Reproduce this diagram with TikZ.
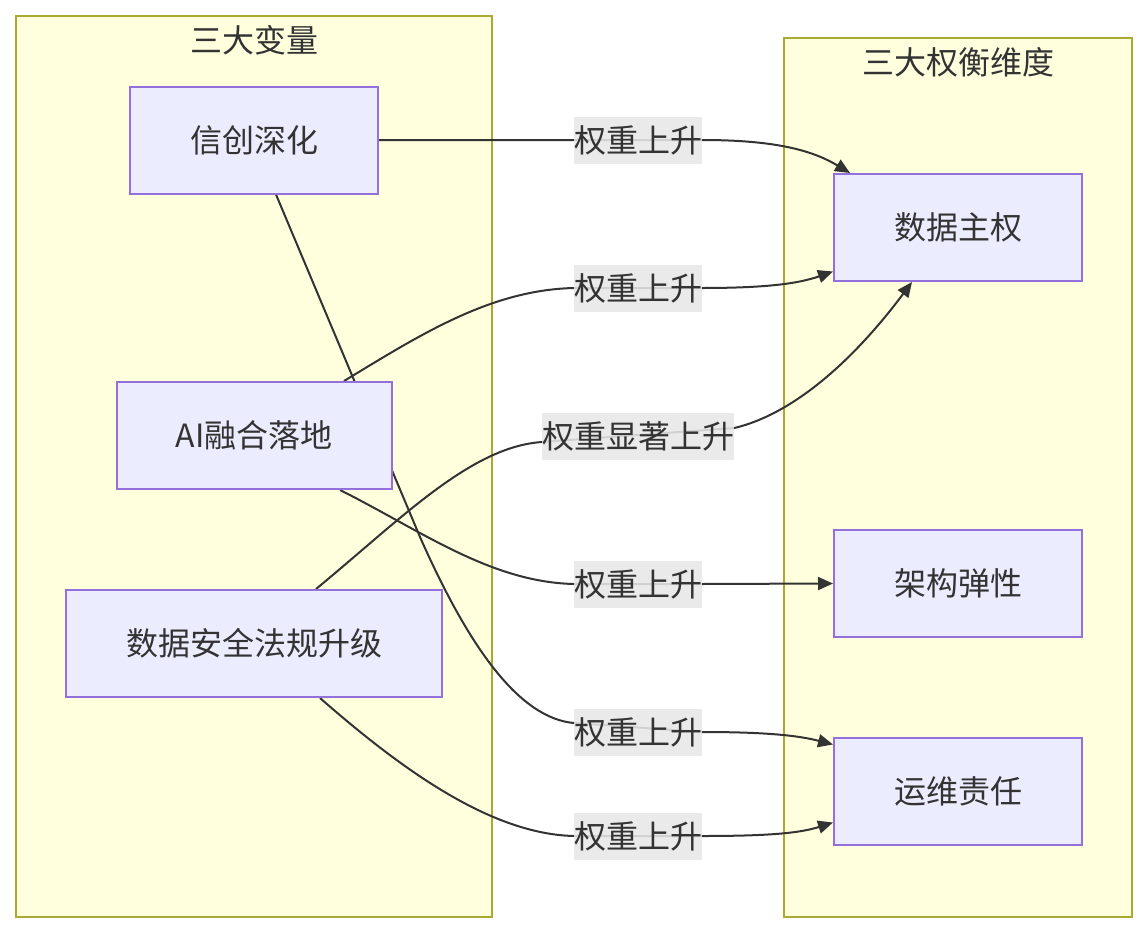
\documentclass[tikz,border=0pt]{standalone}
\usepackage{fontspec}
\setmainfont{Noto Sans CJK SC}
\usetikzlibrary{calc,arrows.meta}
\definecolor{clfill}{HTML}{FFFFDE}
\definecolor{cldraw}{HTML}{AAAA33}
\definecolor{ndfill}{HTML}{ECECFF}
\definecolor{nddraw}{HTML}{9370DB}
\definecolor{txt}{HTML}{333333}
\definecolor{lbl}{HTML}{E8E8E8}
\begin{document}
\begin{tikzpicture}[x=1pt,y=-1pt,
  font=\fontsize{32}{38}\selectfont, text=txt,
  cluster/.style={draw=cldraw,fill=clfill,line width=1.6pt,inner sep=0pt},
  title/.style={inner sep=0pt},
  box/.style={draw=nddraw,fill=ndfill,line width=2pt,minimum height=107pt,inner sep=0pt},
  lab/.style={fill=lbl,fill opacity=0.88,text opacity=1,inner sep=0pt,minimum height=47pt},
  edge/.style={draw=txt,line width=2pt,-{Triangle[length=15pt,width=13pt]}},
  plain/.style={draw=txt,line width=2pt}]
\useasboundingbox (0,0) rectangle (1148,934);
\fill[white] (0,0) rectangle (1148,934);
% clusters
\node[cluster,minimum width=476pt,minimum height=901pt] (cl) at (254,466.5) {};
\node[cluster,minimum width=348pt,minimum height=879pt] (cr) at (958,477.5) {};
\node[title] (tl) at (254,40) {三大变量};
\node[title] (tr) at (958,62) {三大权衡维度};
% node coordinates (drawn later on top of edges)
\coordinate (pxc) at (254,140);
\coordinate (pai) at (254,435.5);
\coordinate (psa) at (254,643.5);
% labels positions
\path (638,140) node[lab,opacity=0] (l1) {权重上升};
\path (638,288) node[lab,opacity=0] (l2) {权重上升};
\path (638,436) node[lab,opacity=0] (l3) {权重显著上升};
\path (638,584) node[lab,opacity=0] (l4) {权重上升};
\path (638,732) node[lab,opacity=0] (l5) {权重上升};
\path (638,836) node[lab,opacity=0] (l6) {权重上升};
% nodes (invisible first to get anchors)
\node[box,minimum width=248pt,opacity=0] (xc) at (pxc) {信创深化};
\node[box,minimum width=275pt,opacity=0] (ai) at (pai) {AI融合落地};
\node[box,minimum width=376pt,opacity=0] (sa) at (psa) {数据安全法规升级};
\node[box,minimum width=248pt,opacity=0] (sj) at (958,227.5) {数据主权};
\node[box,minimum width=248pt,opacity=0] (jg) at (958,583.5) {架构弹性};
\node[box,minimum width=248pt,opacity=0] (yw) at (958,791.5) {运维责任};
% edges
\draw[edge] (xc.east) -- (l1.west) -- (l1.east)
  .. controls (780,140) and (815,152) .. ($(sj.north)+(-108,0)$);
\draw[edge] ($(ai.north)+(90,0)$) .. controls (420,335) and (490,290) .. (l2.west) -- (l2.east)
  .. controls (770,288) and (800,283) .. ($(sj.west)+(0,44)$);
\draw[edge] ($(sa.north)+(62,0)$) .. controls (400,520) and (470,447) .. ($(l3.west)+(0,6)$) -- ($(l3.east)+(0,-8)$)
  .. controls (790,415) and (850,365) .. ($(sj.south)+(-46,0)$);
\draw[edge] ($(ai.south)+(86,0)$) .. controls (420,530) and (490,582) .. (l4.west) -- (l4.east) -- (jg.west);
\draw[edge] ($(xc.south)+(22,0)$) -- (420,537) .. controls (470,650) and (520,718) .. ($(l5.west)+(0,-9)$) -- (l5.east)
  .. controls (770,732) and (800,736) .. ($(yw.west)+(0,-47)$);
\draw[edge] ($(sa.south)+(66,0)$) .. controls (400,768) and (490,834) .. (l6.west) -- (l6.east)
  .. controls (770,836) and (800,833) .. ($(yw.west)+(0,31)$);
% visible nodes
\node[box,minimum width=248pt] at (xc) {信创深化};
\node[box,minimum width=275pt] at (ai) {AI融合落地};
\node[box,minimum width=376pt] at (sa) {数据安全法规升级};
\node[box,minimum width=248pt] at (sj) {数据主权};
\node[box,minimum width=248pt] at (jg) {架构弹性};
\node[box,minimum width=248pt] at (yw) {运维责任};
% visible labels
\node[lab] at (l1) {权重上升};
\node[lab] at (l2) {权重上升};
\node[lab] at (l3) {权重显著上升};
\node[lab] at (l4) {权重上升};
\node[lab] at (l5) {权重上升};
\node[lab] at (l6) {权重上升};
\end{tikzpicture}
\end{document}
